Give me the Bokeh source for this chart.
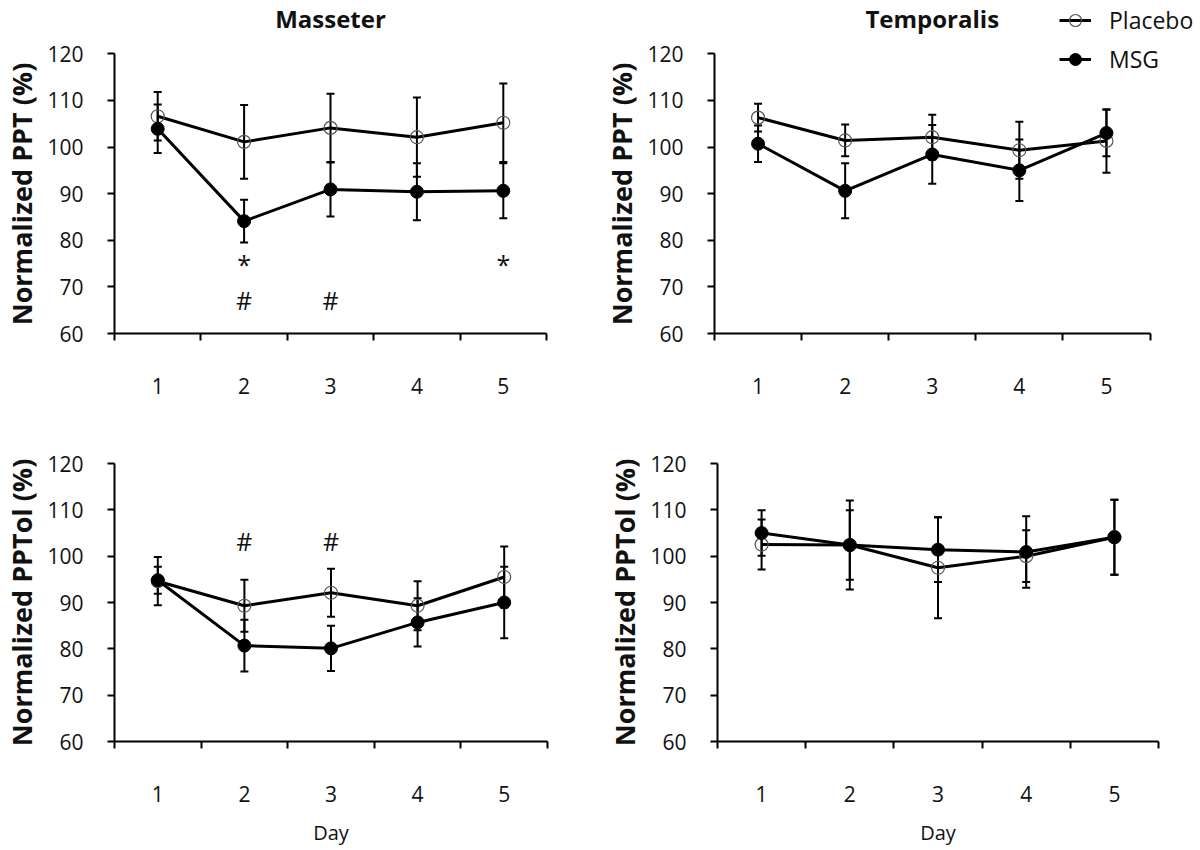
from bokeh.plotting import figure
from bokeh.models import FixedTicker, Whisker, TeeHead, ColumnDataSource, Label, Legend, LegendItem
from bokeh.layouts import row, column
from bokeh.embed import file_html
from bokeh.resources import INLINE
from bokeh.core.properties import value

FONT = "Open Sans"

days = [1, 2, 3, 4, 5]
day_labels = ["1", "2", "3", "4", "5"]
y_ticks = [60, 70, 80, 90, 100, 110, 120]

# Masseter PPT
mas_ppt_placebo = [106.6, 101.1, 104.1, 102.1, 105.2]
mas_ppt_placebo_err = [5.2, 7.9, 7.3, 8.5, 8.4]
mas_ppt_msg = [103.9, 84.1, 90.9, 90.4, 90.6]
mas_ppt_msg_err = [5.2, 4.6, 5.8, 6.1, 5.9]

# Temporalis PPT
tem_ppt_placebo = [106.3, 101.4, 102.1, 99.3, 101.3]
tem_ppt_placebo_err = [3.0, 3.4, 4.8, 6.1, 6.8]
tem_ppt_msg = [100.7, 90.6, 98.4, 95.0, 103.0]
tem_ppt_msg_err = [3.9, 5.9, 6.3, 6.6, 5.0]

# Masseter PPTol
mas_pptol_placebo = [94.6, 89.3, 92.1, 89.3, 95.5]
mas_pptol_placebo_err = [5.2, 5.6, 5.2, 5.3, 6.6]
mas_pptol_msg = [94.8, 80.7, 80.1, 85.7, 90.0]
mas_pptol_msg_err = [2.9, 5.6, 4.9, 5.2, 7.7]

# Temporalis PPTol
tem_pptol_placebo = [102.5, 102.4, 97.5, 100.0, 104.1]
tem_pptol_placebo_err = [5.4, 7.5, 10.9, 5.6, 8.1]
tem_pptol_msg = [105.0, 102.4, 101.4, 100.9, 104.1]
tem_pptol_msg_err = [4.9, 9.6, 7.0, 7.7, 8.1]

# significance markers
mas_ppt_star_days = [2, 5]
mas_ppt_star_y = [75.0, 75.0]
mas_ppt_hash_days = [2, 3]
mas_ppt_hash_y = [67.2, 67.2]
mas_pptol_hash_days = [2, 3]
mas_pptol_hash_y = [103.2, 103.2]

PX_PER_UNIT_Y = 280 / 60.0


def make_panel(width, height, bl, br, bt, bb, ylabel, pl, pl_err, ms, ms_err,
               x_end=5.5, y_end=120, xlabel=None):
    p = figure(width=width, height=height, x_range=(0.5, x_end), y_range=(60, y_end),
               output_backend="svg", toolbar_location=None,
               min_border_left=bl, min_border_right=br, min_border_top=bt, min_border_bottom=bb)
    p.outline_line_color = None
    p.xgrid.visible = False
    p.ygrid.visible = False
    p.background_fill_color = "white"
    p.border_fill_color = "white"

    xa = p.xaxis[0]
    xa.bounds = (0.5, 5.5)
    xa.ticker = FixedTicker(ticks=days, minor_ticks=[0.5, 1.5, 2.5, 3.5, 4.5, 5.5])
    xa.major_label_overrides = {d: l for d, l in zip(days, day_labels)}
    xa.major_tick_out = 0
    xa.major_tick_in = 0
    xa.minor_tick_out = 7
    xa.minor_tick_in = 0
    xa.minor_tick_line_width = 2
    xa.minor_tick_line_color = "black"
    xa.axis_line_width = 2
    xa.axis_line_color = "black"
    xa.major_label_standoff = 37
    xa.major_label_text_font = FONT
    xa.major_label_text_font_size = "21px"
    xa.major_label_text_color = "#111111"
    if xlabel:
        xa.axis_label = xlabel
        xa.axis_label_text_font = FONT
        xa.axis_label_text_font_size = "20px"
        xa.axis_label_text_font_style = "normal"
        xa.axis_label_standoff = 14
        xa.axis_label_text_color = "#111111"

    ya = p.yaxis[0]
    ya.bounds = (60, 120)
    ya.ticker = FixedTicker(ticks=y_ticks, minor_ticks=[])
    ya.major_tick_out = 7
    ya.major_tick_in = 0
    ya.major_tick_line_width = 2
    ya.axis_line_width = 2
    ya.axis_line_color = "black"
    ya.major_label_standoff = 24
    ya.major_label_text_font = FONT
    ya.major_label_text_font_size = "21px"
    ya.major_label_text_color = "#111111"
    ya.axis_label = ylabel
    ya.axis_label_text_font = FONT
    ya.axis_label_text_font_size = "27px"
    ya.axis_label_text_font_style = "bold"
    ya.axis_label_standoff = 4
    ya.axis_label_text_color = "#111111"

    src_pl = ColumnDataSource(dict(x=days, y=pl,
                                   upper=[v + e for v, e in zip(pl, pl_err)],
                                   lower=[v - e for v, e in zip(pl, pl_err)]))
    src_ms = ColumnDataSource(dict(x=days, y=ms,
                                   upper=[v + e for v, e in zip(ms, ms_err)],
                                   lower=[v - e for v, e in zip(ms, ms_err)]))
    for src in (src_pl, src_ms):
        w = Whisker(source=src, base="x", upper="upper", lower="lower",
                    line_width=2, line_color="black",
                    upper_head=TeeHead(size=8, line_width=2, line_color="black"),
                    lower_head=TeeHead(size=8, line_width=2, line_color="black"))
        p.add_layout(w)

    l_pl = p.line("x", "y", source=src_pl, line_width=3, line_color="black")
    s_pl = p.scatter("x", "y", source=src_pl, size=13, marker="circle",
                     fill_alpha=0, line_color="#555555", line_width=1.2)
    l_ms = p.line("x", "y", source=src_ms, line_width=3, line_color="black")
    s_ms = p.scatter("x", "y", source=src_ms, size=13, marker="circle",
                     fill_color="black", line_color="black")
    return p, (l_pl, s_pl, l_ms, s_ms)


# top row: frame reaches the top of the page so that titles / legend are inside it;
# trailing em spaces keep the y label centred on the 60-120 axis rather than the frame
top_extra = 120 + 53.3 / PX_PER_UNIT_Y
pad = "\u2003\u2003"
p1, r1 = make_panel(600, 428, 109, 54, 0, 95, "Normalized PPT (%)" + pad,
                    mas_ppt_placebo, mas_ppt_placebo_err, mas_ppt_msg, mas_ppt_msg_err,
                    y_end=top_extra)
p2, r2 = make_panel(598, 428, 109, 0, 0, 95, "Normalized PPT (%)" + pad,
                    tem_ppt_placebo, tem_ppt_placebo_err, tem_ppt_msg, tem_ppt_msg_err,
                    x_end=0.5 + 489 / 88.0, y_end=top_extra)
p3, r3 = make_panel(600, 420, 110, 53, 35, 105, "Normalized PPTol (%)",
                    mas_pptol_placebo, mas_pptol_placebo_err, mas_pptol_msg, mas_pptol_msg_err,
                    xlabel="Day")
p4, r4 = make_panel(598, 420, 117, 40, 35, 105, "Normalized PPTol (%)",
                    tem_pptol_placebo, tem_pptol_placebo_err, tem_pptol_msg, tem_pptol_msg_err,
                    xlabel="Day")

# significance symbols
p1.text(x=mas_ppt_star_days, y=mas_ppt_star_y, text=["*"] * len(mas_ppt_star_days),
        text_align="center", text_baseline="middle", text_font=value(FONT),
        text_font_size="25px", text_color="#111111")
p1.text(x=mas_ppt_hash_days, y=mas_ppt_hash_y, text=["#"] * len(mas_ppt_hash_days),
        text_align="center", text_baseline="middle", text_font=value(FONT),
        text_font_size="25px", text_color="#111111")
p3.text(x=mas_pptol_hash_days, y=mas_pptol_hash_y, text=["#"] * len(mas_pptol_hash_days),
        text_align="center", text_baseline="middle", text_font=value(FONT),
        text_font_size="25px", text_color="#111111")

# column titles
title_y = 120 + (53.3 - 18) / PX_PER_UNIT_Y
for p, t in ((p1, "Masseter"), (p2, "Temporalis")):
    p.add_layout(Label(x=3, y=title_y, text=t, text_align="center", text_baseline="middle",
                       text_font=FONT, text_font_size="24px", text_font_style="bold",
                       text_color="#111111"))

# legend
legend = Legend(items=[LegendItem(label="Placebo", renderers=[r2[0], r2[1]]),
                       LegendItem(label="MSG", renderers=[r2[2], r2[3]])],
                location=(345, 258), orientation="vertical",
                label_text_font=FONT, label_text_font_size="23px", label_text_color="#111111",
                glyph_width=32, glyph_height=30, label_height=30, label_standoff=18,
                spacing=7, padding=0, margin=0,
                border_line_color=None, background_fill_alpha=0)
p2.add_layout(legend, "center")

layout = column(row(p1, p2), row(p3, p4))
open("out.html", "w").write(file_html(layout, INLINE))
